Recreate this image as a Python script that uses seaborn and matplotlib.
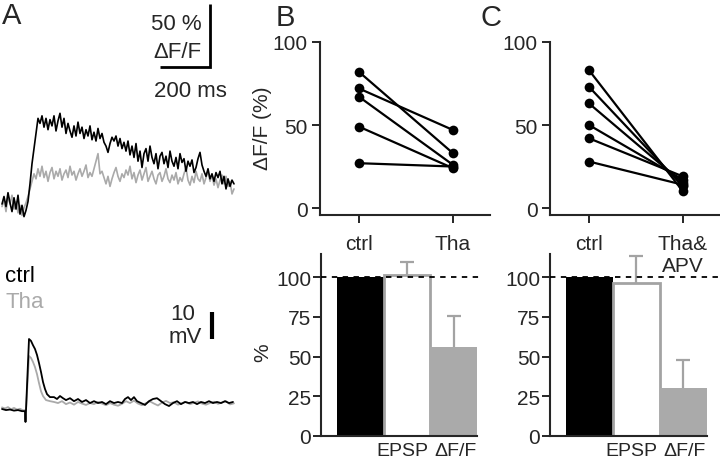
import numpy as np
import pandas as pd
import matplotlib
matplotlib.use('Agg')
import matplotlib.pyplot as plt
import seaborn as sns

# ---- values ----

# A, top: dF/F traces (%), one sample every 8 ms
dff_dt = 8
dff_ctrl = [-4, 2, -6, 5, -3, -10, 1, -8, 3, -12, -5, -14, -9,
            -2, 12, 28, 40, 52, 64, 60, 66, 57, 64, 55, 63, 58,
            66, 54, 62, 68, 57, 64, 52, 60, 54, 49, 58, 50, 61,
            52, 57, 48, 55, 50, 58, 47, 53, 46, 56, 48, 52, 45,
            42, 37, 44, 49, 46, 50, 42, 48, 40, 45, 38, 46, 35,
            42, 33, 44, 30, 38, 25, 36, 40, 30, 42, 33, 28, 36,
            24, 34, 37, 28, 34, 25, 38, 30, 26, 33, 24, 36, 29,
            32, 22, 30, 26, 31, 21, 25, 32, 37, 27, 22, 18, 24,
            16, 20, 14, 21, 17, 22, 12, 18, 8, 16, 10, 15, 12]
dff_tha = [-6, -1, -10, 2, -4, 3, -8, -2, -11, -5, -13, -7, -3,
           2, 8, 14, 20, 16, 24, 18, 26, 17, 22, 14, 21, 25,
           16, 22, 18, 24, 15, 20, 23, 17, 26, 19, 22, 15, 20,
           24, 18, 22, 27, 17, 21, 18, 24, 30, 36, 20, 22, 17,
           12, 18, 10, 16, 21, 25, 18, 14, 20, 17, 23, 19, 26,
           16, 21, 13, 19, 23, 15, 20, 25, 14, 18, 22, 16, 12,
           19, 21, 14, 18, 24, 16, 13, 19, 15, 21, 12, 17, 14,
           20, 25, 15, 11, 18, 13, 22, 16, 14, 20, 12, 17, 22,
           14, 19, 11, 16, 9, 15, 19, 12, 18, 10, 14, 4, 8]

# A, bottom: EPSP traces (mV)
epsp_t_ctrl = [0, 16, 32, 48, 64, 80, 92, 94,
               108, 116, 124, 132, 140, 148, 156, 164, 172, 180,
               192, 208, 220, 232, 244, 256,
               272, 288, 304, 320, 336, 352, 368, 384, 400, 416, 432, 448, 464, 480,
               492, 504, 516, 528, 540,
               556, 572, 588, 604, 620, 636, 652, 668, 684, 700, 716, 732,
               748, 764, 780, 796, 812, 828, 844, 860, 876, 892, 908, 924]
epsp_ctrl = [0.4, 0.0, 0.2, -0.2, 0.0, -0.4, -0.4, -4.4,
             26.3, 25.6, 24.0, 22.6, 20.4, 17.4, 14.1, 10.4, 7.8, 5.9,
             4.8, 4.8, 4.1, 5.2, 4.4, 3.7,
             4.4, 3.3, 4.1, 3.0, 3.7, 2.6, 3.3, 2.6, 3.0, 2.2, 3.3, 2.6, 3.0, 2.6,
             4.1, 4.8, 3.7, 4.8, 3.3,
             2.6, 1.9, 3.3, 4.1, 4.4, 3.3, 2.2, 1.5, 2.6, 3.3, 2.2, 3.0,
             2.6, 3.0, 2.2, 3.0, 2.6, 3.3, 2.6, 3.0, 2.6, 3.3, 2.6, 3.0]
epsp_t_tha = [0, 12, 24, 36, 48, 60, 72, 84, 92, 94,
              108, 116, 124, 132, 140, 148, 156, 164, 176,
              192, 208, 224, 240, 256, 272, 288, 304, 320, 336, 352, 368, 384, 400,
              416, 432, 448, 464, 480, 496, 512, 528, 544, 560, 576, 592, 608, 624,
              640, 656, 672, 688, 704, 720, 736, 752, 768, 784, 800, 816, 832, 848,
              864, 880, 896, 912, 928]
epsp_tha = [1.0, 0.6, 1.1, 0.3, 0.8, 0.2, 0.5, -0.1, 0.0, -3.5,
            20.0, 19.3, 17.8, 15.9, 13.3, 10.0, 7.0, 5.2, 3.7,
            3.3, 3.0, 2.6, 3.3, 2.2, 2.8, 2.0, 3.0, 2.4, 1.9, 2.6, 2.2, 3.0, 2.4,
            1.8, 2.6, 2.0, 1.6, 2.3, 3.3, 2.6, 3.5, 2.4, 1.8, 2.6, 3.2, 2.4, 1.7,
            2.8, 3.4, 2.6, 2.9, 2.0, 2.6, 3.0, 2.2, 2.7, 3.2, 2.4, 2.0, 2.6, 3.1,
            2.3, 2.8, 3.3, 2.1, 2.5]

# B / C, top: dF/F per cell (%)
b_labels = ['ctrl', 'Tha']
b_ctrl = [82, 72, 67, 49, 27]
b_tha = [33, 47, 26, 24, 25]
c_labels = ['ctrl', 'Tha&\nAPV']
c_ctrl = [83, 73, 63, 50, 42, 28]
c_tha = [10, 13, 15, 17, 19, 14]

# B / C, bottom: normalised to ctrl (%), mean and upper error
bar_kinds = ['ctrl', 'EPSP', 'ΔF/F']
b_mean = [100, 101, 56]
b_err = [0, 8.5, 19.5]
c_mean = [100, 96, 30]
c_err = [0, 17, 18]

GRAY = '#aaaaaa'
EDGE = '#a3a3a3'
W, H = 720, 460

sns.set_style('ticks')
plt.rcParams['font.family'] = ['Liberation Sans', 'DejaVu Sans']
plt.rcParams['axes.facecolor'] = 'none'

fig = plt.figure(figsize=(7.2, 4.6), dpi=100)


def box(l, t, r, b):
    return fig.add_axes([l / W, 1 - b / H, (r - l) / W, (b - t) / H])


def ftext(x, y, s, **kw):
    fig.text(x / W, 1 - y / H, s, **kw)


# ---- A: dF/F traces ----
ax = box(0, 0, 240, 230)
t_c = np.arange(len(dff_ctrl)) * dff_dt
t_t = np.arange(len(dff_tha)) * dff_dt
sns.lineplot(x=t_t, y=dff_tha, color=GRAY, lw=1.2, ax=ax)
sns.lineplot(x=t_c, y=dff_ctrl, color='black', lw=1.2, ax=ax)
ax.set_xlim(-8, 952)
ax.set_ylim(-23.8, 158.7)
ax.axis('off')
# scale bar 50 % / 200 ms
sb_x, sb_y = 832, 105
ax.plot([sb_x - 200, sb_x, sb_x], [sb_y, sb_y, sb_y + 50], color='black',
        lw=2, solid_capstyle='butt', solid_joinstyle='miter')
ftext(202, 24, '50 %', ha='right', va='center', fontsize=16)
ftext(202, 52, 'ΔF/F', ha='right', va='center', fontsize=16)
ftext(190, 92, '200 ms', ha='center', va='center', fontsize=16)

# ---- A: EPSP traces ----
ax = box(0, 310, 240, 440)
sns.lineplot(x=epsp_t_tha, y=epsp_tha, color=GRAY, lw=1.3, ax=ax)
sns.lineplot(x=epsp_t_ctrl, y=epsp_ctrl, color='black', lw=1.3, ax=ax)
ax.set_xlim(-8, 952)
ax.set_ylim(-10.7, 37.4)
ax.axis('off')
ax.plot([840, 840], [26.3, 36.3], color='black', lw=3, solid_capstyle='butt')
ftext(183, 315, '10', ha='center', va='center', fontsize=16)
ftext(185, 338, 'mV', ha='center', va='center', fontsize=16)
ftext(5, 277, 'ctrl', ha='left', va='center', fontsize=16, color='black')
ftext(6, 303, 'Tha', ha='left', va='center', fontsize=16, color=GRAY)


# ---- B / C: paired plots ----
def pair_panel(ax, ctrl, tha, labels):
    n = len(ctrl)
    df = pd.DataFrame({'cell': list(range(n)) * 2,
                       'cond': [0] * n + [1] * n,
                       'val': ctrl + tha})
    sns.lineplot(data=df, x='cond', y='val', units='cell', estimator=None,
                 color='black', lw=1.6, marker='o', markersize=7,
                 markeredgewidth=0, ax=ax, clip_on=False)
    ax.set_xlim(-0.415, 1.394)
    ax.set_ylim(-4.2, 100)
    ax.set_xticks([0, 1], labels)
    ax.set_yticks([0, 50, 100])
    ax.set_xlabel('')
    ax.set_ylabel('')
    sns.despine(ax=ax)
    for s in ax.spines.values():
        s.set_linewidth(1.5)
    ax.tick_params(length=6, width=1.4, labelsize=15, pad=3)
    ax.tick_params(axis='x', pad=8)


def bar_panel(ax, means, errs, dash_end):
    df = pd.DataFrame({'kind': bar_kinds, 'pct': means})
    sns.barplot(data=df, x='kind', y='pct', hue='kind',
                palette=['black', 'white', GRAY], width=1, saturation=1,
                legend=False, linewidth=0, ax=ax)
    for p in ax.patches:
        p.set_zorder(2)
        if p.get_facecolor()[:3] == (1.0, 1.0, 1.0):
            p.set_edgecolor(EDGE)
            p.set_linewidth(2)
    # upper error only
    eb = ax.errorbar([1, 2], means[1:], yerr=[[0, 0], errs[1:]], fmt='none',
                     ecolor=EDGE, elinewidth=1.6, capsize=5, capthick=1.6,
                     zorder=1)
    eb.lines[1][0].set_visible(False)
    ax.axhline(100, xmin=0, xmax=dash_end, color='black', lw=1.3,
               ls=(0, (3, 3)), clip_on=False, zorder=4)
    ax.set_xlim(-0.84, 2.5)
    ax.set_ylim(0, 114.5)
    ax.set_yticks([0, 25, 50, 75, 100])
    ax.set_xticks([0.9, 2.03], ['EPSP', 'ΔF/F'])
    ax.set_xlabel('')
    ax.set_ylabel('')
    sns.despine(ax=ax)
    for s in ax.spines.values():
        s.set_linewidth(1.5)
        s.set_zorder(3)
    ax.tick_params(axis='y', length=6, width=1.4, labelsize=15, pad=1)
    ax.tick_params(axis='x', length=0, labelsize=14, pad=4)


pair_panel(box(320, 43, 490, 216), b_ctrl, b_tha, b_labels)
pair_panel(box(550, 43, 720, 216), c_ctrl, c_tha, c_labels)
bar_panel(box(321, 255, 477, 437), b_mean, b_err, 1.04)
bar_panel(box(550, 255, 707, 437), c_mean, c_err, 1.08)

ftext(263, 128, 'ΔF/F (%)', ha='center', va='center', rotation=90, fontsize=15)
ftext(263, 353, '%', ha='center', va='center', rotation=90, fontsize=15)

# panel letters
ftext(2, 16, 'A', ha='left', va='center', fontsize=21)
ftext(276, 18, 'B', ha='left', va='center', fontsize=21)
ftext(481, 18, 'C', ha='left', va='center', fontsize=21)

fig.savefig('out.png', dpi=100, facecolor='white')
